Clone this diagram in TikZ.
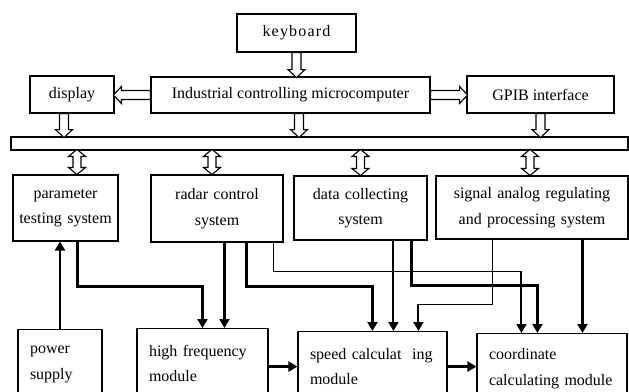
\documentclass[tikz,border=0pt]{standalone}
\usepackage{fontspec}
\setmainfont{Liberation Serif}
\usetikzlibrary{arrows.meta,calc}
\newcommand{\hollowarr}[3]{%
  \draw[hollow,shift={(#1)},rotate=#2] (0,-4.5) -- ({#3-8},-4.5) -- ({#3-8},-8.5) -- (#3,0) -- ({#3-8},8.5) -- ({#3-8},4.5) -- (0,4.5) -- cycle;}
\newcommand{\dblarr}[3]{%
  \draw[hollow,shift={(#1)},rotate=#2] (0,0) -- (7,8.5) -- (7,4) -- ({#3-7},4) -- ({#3-7},8.5) -- (#3,0) -- ({#3-7},-8.5) -- ({#3-7},-4) -- (7,-4) -- (7,-8.5) -- cycle;}
\begin{document}
\begin{tikzpicture}[x=1pt,y=-1pt,
  font=\fontsize{16}{25.5}\selectfont,
  box/.style={draw,line width=1.1pt,inner sep=0pt,align=center},
  lbox/.style={draw,line width=1.1pt,inner ysep=0pt,inner xsep=12pt,align=left,anchor=north},
  hollow/.style={draw,line width=1.1pt,fill=white},
  conn/.style={line width=2.8pt,-{Triangle[length=9pt,width=10pt]}},
  mconn/.style={line width=2pt,-{Triangle[length=9pt,width=10pt]}},
  tconn/.style={line width=1.2pt}]
\useasboundingbox (0,0) rectangle (629,391);
% top
\node[box,minimum width=119,minimum height=38] (kb) at (296.5,33) {k\kern1.2pt e\kern1.2pt y\kern1.2pt b\kern1.2pt o\kern1.2pt a\kern1.2pt r\kern1.2pt d};
\node[box,minimum width=279,minimum height=36] (ind) at (290.5,95) {Industrial controlling microcomputer};
\node[box,minimum width=84,minimum height=37] (disp) at (72,94.5) {display};
\node[box,minimum width=147,minimum height=37] (gpib) at (540.5,94.5) {GPIB interface};
\node[box,minimum width=617,minimum height=13] (bus) at (319.5,143.5) {};
% middle row
\node[box,minimum width=105,minimum height=66,text width=103] (param) at (65.5,208) {parameter\\testing system};
\node[box,minimum width=132,minimum height=67,text width=130] (radar) at (217,208.5) {radar control\\system};
\node[box,minimum width=133,minimum height=64,text width=131] (data) at (360.5,208) {data collecting\\system};
\node[box,minimum width=192,minimum height=63,text width=190] (sig) at (532,207.5) {signal analog regulating\\and processing system};
% bottom row
\node[lbox,text width=60,minimum height=70] (power) at (60,329) {power\\supply};
\node[lbox,text width=107,minimum height=70] (hf) at (202.5,328) {high frequency\\module};
\node[lbox,text width=125,minimum height=70] (speed) at (372.5,331) {speed calculat\ \ ing\\module};
\node[lbox,text width=126,minimum height=70] (coord) at (552,333) {coordinate\\calculating module};
% hollow arrows
\hollowarr{kb.south}{-90}{25}
\hollowarr{ind.west}{180}{37}
\hollowarr{ind.east}{0}{37}
\hollowarr{[xshift=-8pt]disp.south}{-90}{24}
\hollowarr{[xshift=8.5pt]ind.south}{-90}{24}
\hollowarr{gpib.south}{-90}{24}
\dblarr{[xshift=11.5pt]param.north}{90}{25}
\dblarr{[xshift=-5pt]radar.north}{90}{25}
\dblarr{data.north}{90}{26}
\dblarr{[xshift=-2pt]sig.north}{90}{26}
% connectors
\draw[conn] (power.north) -- (power.north |- param.south);
\draw[conn] ([xshift=65pt]param.south west) -- ++(0,45) -| ([xshift=66pt]hf.north west);
\draw[conn] ([xshift=74pt]radar.south west) -- ([xshift=88pt]hf.north west);
\draw[conn] ([xshift=96pt]radar.south west) -- ++(0,44) -| ([xshift=75pt]speed.north west);
\draw[tconn] ([xshift=123pt]radar.south west) -- ++(0,29) -| ([xshift=45pt]coord.north west);
\draw[mconn] ([xshift=45pt,yshift=62pt]coord.north west) -- ([xshift=45pt]coord.north west);
\draw[mconn] ([xshift=100pt]data.south west) -- ([xshift=96pt]speed.north west);
\draw[conn] ([xshift=118pt]data.south west) -- ++(0,45) -| ([xshift=61pt]coord.north west);
\draw[tconn] ([xshift=57pt]sig.south west) -- ++(0,65) -| ([xshift=121pt,yshift=12pt]speed.north west);
\draw[mconn] ([xshift=121pt,yshift=27pt]speed.north west) -- ([xshift=121pt]speed.north west);
\draw[conn] ([xshift=147pt]sig.south west) -- ([xshift=106pt]coord.north west);
\draw[conn] ([yshift=-3pt]hf.east) -- ([yshift=-3pt]hf.east -| speed.west);
\draw[conn] (speed.east) -- (speed.east -| coord.west);
\end{tikzpicture}
\end{document}
